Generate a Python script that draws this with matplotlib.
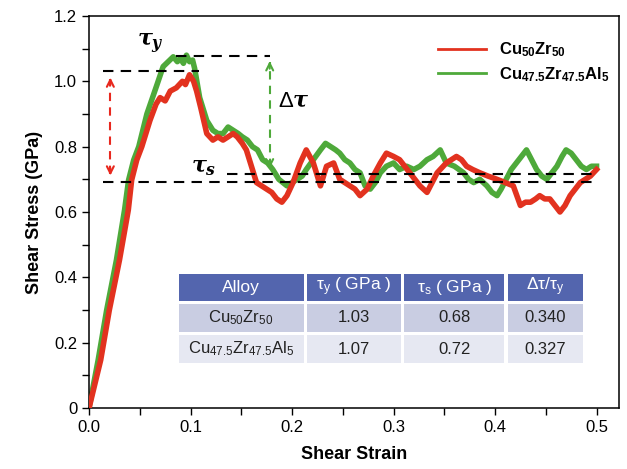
import matplotlib
matplotlib.use("Agg")
import matplotlib.pyplot as plt
from matplotlib.patches import Rectangle
from matplotlib.lines import Line2D

plt.rcParams['font.family'] = ['Liberation Sans', 'DejaVu Sans']
plt.rcParams['mathtext.fontset'] = 'custom'
plt.rcParams['mathtext.rm'] = 'Liberation Sans'
plt.rcParams['mathtext.bf'] = 'Liberation Sans:bold'
plt.rcParams['mathtext.it'] = 'DejaVu Serif:italic:bold'

# ---------------- data ----------------
green_strain = [0.0, 0.009, 0.0174, 0.027, 0.035, 0.039, 0.044, 0.049, 0.057, 0.067,
                0.073, 0.078, 0.083, 0.087, 0.090, 0.093, 0.096, 0.099, 0.102, 0.104,
                0.109, 0.116, 0.122, 0.127, 0.132, 0.137, 0.142, 0.147, 0.151, 0.156,
                0.161, 0.166, 0.171, 0.176, 0.181, 0.187, 0.195, 0.200, 0.205, 0.210,
                0.214, 0.221, 0.228, 0.233, 0.238, 0.243, 0.247, 0.252, 0.257, 0.262,
                0.267, 0.272, 0.277, 0.282, 0.287, 0.293, 0.300, 0.306, 0.313, 0.320,
                0.326, 0.333, 0.339, 0.346, 0.352, 0.360, 0.369, 0.374, 0.379, 0.385,
                0.392, 0.397, 0.402, 0.406, 0.411, 0.416, 0.421, 0.426, 0.431, 0.436,
                0.441, 0.446, 0.451, 0.456, 0.461, 0.466, 0.470, 0.475, 0.480, 0.485,
                0.490, 0.495, 0.500]
green_stress = [0.0, 0.147, 0.30, 0.453, 0.606, 0.698, 0.759, 0.80, 0.90, 0.99,
                1.045, 1.06, 1.075, 1.06, 1.07, 1.055, 1.08, 1.06, 1.065, 1.04,
                0.95, 0.88, 0.85, 0.84, 0.84, 0.86, 0.85, 0.84, 0.83, 0.82,
                0.80, 0.79, 0.76, 0.75, 0.73, 0.70, 0.68, 0.69, 0.70, 0.71,
                0.73, 0.76, 0.79, 0.81, 0.80, 0.79, 0.78, 0.76, 0.75, 0.73,
                0.72, 0.68, 0.67, 0.69, 0.72, 0.74, 0.75, 0.73, 0.74, 0.73,
                0.74, 0.76, 0.77, 0.79, 0.75, 0.74, 0.72, 0.70, 0.69, 0.70,
                0.68, 0.66, 0.65, 0.67, 0.70, 0.73, 0.75, 0.77, 0.79, 0.76,
                0.73, 0.71, 0.70, 0.72, 0.74, 0.77, 0.79, 0.78, 0.76, 0.74,
                0.73, 0.74, 0.74]

red_strain = [0.0, 0.0115, 0.020, 0.030, 0.0387, 0.042, 0.047, 0.052, 0.060, 0.066,
              0.070, 0.075, 0.080, 0.086, 0.092, 0.095, 0.099, 0.103, 0.106, 0.110,
              0.116, 0.122, 0.127, 0.132, 0.137, 0.142, 0.146, 0.151, 0.155, 0.159,
              0.165, 0.170, 0.175, 0.180, 0.185, 0.190, 0.195, 0.201, 0.208, 0.214,
              0.221, 0.228, 0.234, 0.241, 0.247, 0.252, 0.257, 0.262, 0.267, 0.274,
              0.280, 0.287, 0.293, 0.300, 0.306, 0.311, 0.316, 0.321, 0.326, 0.333,
              0.338, 0.343, 0.352, 0.357, 0.362, 0.367, 0.372, 0.378, 0.385, 0.393,
              0.402, 0.410, 0.418, 0.425, 0.430, 0.435, 0.440, 0.444, 0.449, 0.454,
              0.459, 0.464, 0.469, 0.474, 0.479, 0.484, 0.489, 0.494, 0.500]
red_stress = [0.0, 0.147, 0.30, 0.453, 0.606, 0.698, 0.759, 0.80, 0.88, 0.93,
              0.95, 0.94, 0.97, 0.98, 1.00, 0.99, 1.02, 1.00, 0.97, 0.92,
              0.84, 0.82, 0.83, 0.82, 0.83, 0.84, 0.83, 0.81, 0.79, 0.75,
              0.69, 0.68, 0.67, 0.66, 0.64, 0.63, 0.65, 0.69, 0.75, 0.79,
              0.75, 0.68, 0.74, 0.75, 0.70, 0.69, 0.68, 0.67, 0.65, 0.67,
              0.71, 0.75, 0.78, 0.77, 0.76, 0.74, 0.72, 0.70, 0.68, 0.66,
              0.69, 0.72, 0.75, 0.76, 0.77, 0.76, 0.74, 0.73, 0.72, 0.71,
              0.70, 0.69, 0.68, 0.62, 0.63, 0.63, 0.64, 0.65, 0.64, 0.64,
              0.62, 0.60, 0.62, 0.65, 0.67, 0.69, 0.70, 0.71, 0.73]

series_labels = [r'$\mathbf{Cu_{50}Zr_{50}}$', r'$\mathbf{Cu_{47.5}Zr_{47.5}Al_5}$']

tau_y_red, tau_y_green = 1.03, 1.077
tau_s_red, tau_s_green = 0.693, 0.715

table_header = ['Alloy', 'τ$_\\mathrm{y}$ ( GPa )', 'τ$_\\mathrm{s}$ ( GPa )', 'Δτ/τ$_\\mathrm{y}$']
table_rows = [[r'Cu$_\mathrm{50}$Zr$_\mathrm{50}$', '1.03', '0.68', '0.340'],
              [r'Cu$_\mathrm{47.5}$Zr$_\mathrm{47.5}$Al$_\mathrm{5}$', '1.07', '0.72', '0.327']]

x_ticks = [0.0, 0.1, 0.2, 0.3, 0.4, 0.5]
x_ticklabels = ['0.0', '0.1', '0.2', '0.3', '0.4', '0.5']
y_ticks = [0, 0.2, 0.4, 0.6, 0.8, 1.0, 1.2]
y_ticklabels = ['0', '0.2', '0.4', '0.6', '0.8', '1.0', '1.2']

# ---------------- figure ----------------
fig = plt.figure(figsize=(6.27, 4.69), dpi=100)
ax = fig.add_axes([0.142, 0.130, 0.845, 0.836])

RED = '#e2321f'
GREEN = '#4ea93a'
ax.plot(green_strain, green_stress, color=GREEN, lw=4.0, solid_joinstyle='round', zorder=2)
ax.plot(red_strain, red_stress, color=RED, lw=4.0, solid_joinstyle='round', zorder=3)

# dashed reference lines
dash = dict(color='black', lw=1.5, dashes=(5, 3.5), zorder=4)
ax.plot([0.014, 0.108], [tau_y_red, tau_y_red], **dash)
ax.plot([0.086, 0.178], [tau_y_green, tau_y_green], **dash)
ax.plot([0.014, 0.50], [tau_s_red, tau_s_red], **dash)
ax.plot([0.136, 0.50], [tau_s_green, tau_s_green], **dash)

# arrows
def dashed_double_arrow(x, y0, y1, color):
    ax.plot([x, x], [y0 + 0.012, y1 - 0.012], color=color, lw=1.5, dashes=(4, 3), zorder=5)
    ax.annotate('', xy=(x, y1), xytext=(x, y1 - 0.04),
                arrowprops=dict(arrowstyle='->,head_length=0.5,head_width=0.25', color=color, lw=1.5), zorder=5)
    ax.annotate('', xy=(x, y0), xytext=(x, y0 + 0.04),
                arrowprops=dict(arrowstyle='->,head_length=0.5,head_width=0.25', color=color, lw=1.5), zorder=5)

dashed_double_arrow(0.021, 0.703, 1.02, '#e8281e')
dashed_double_arrow(0.178, 0.725, 1.07, '#4ea93a')

ax.text(0.06, 1.115, r'$\mathit{\tau_y}$', fontsize=16, ha='center', va='center')
ax.text(0.202, 0.938, r'$\mathit{\Delta\tau}$', fontsize=16, ha='center', va='center')
ax.text(0.113, 0.735, r'$\mathit{\tau_s}$', fontsize=16, ha='center', va='center')

ax.set_xlim(0, 0.522)
ax.set_ylim(0, 1.2)
ax.set_xticks(x_ticks)
ax.set_xticklabels(x_ticklabels)
ax.set_yticks(y_ticks)
ax.set_yticklabels(y_ticklabels)
ax.set_xticks([0.05, 0.15, 0.25, 0.35, 0.45], minor=True)
ax.set_yticks([0.1, 0.3, 0.5, 0.7, 0.9, 1.1], minor=True)
ax.tick_params(which='both', direction='out', length=5, width=1, labelsize=12)
for s in ax.spines.values():
    s.set_linewidth(1.1)

ax.set_xlabel('Shear Strain', fontsize=13, fontweight='bold', labelpad=8)
ax.set_ylabel('Shear Stress (GPa)', fontsize=13, fontweight='bold', labelpad=8)

handles = [Line2D([], [], color=RED, lw=2), Line2D([], [], color=GREEN, lw=2)]
ax.legend(handles, series_labels, loc='upper left', bbox_to_anchor=(0.63, 0.975),
          frameon=False, handlelength=2.9, fontsize=12, labelspacing=0.35)

# table
col_edges = [0.166, 0.408, 0.592, 0.787, 0.936]
row_edges = [0.347, 0.270, 0.191, 0.110]
row_colors = ['#5365ae', '#c9cde2', '#e6e8f2']
gap = 0.003
all_rows = [table_header] + table_rows
for r, row in enumerate(all_rows):
    y_top, y_bot = row_edges[r], row_edges[r + 1]
    for c, txt in enumerate(row):
        x0, x1 = col_edges[c], col_edges[c + 1]
        ax.add_patch(Rectangle((x0 + gap, y_bot + gap * 1.3), x1 - x0 - 2 * gap, y_top - y_bot - 2 * gap * 1.3,
                               transform=ax.transAxes, facecolor=row_colors[r], edgecolor='none', zorder=6))
        ax.text((x0 + x1) / 2, (y_top + y_bot) / 2, txt, transform=ax.transAxes,
                ha='center', va='center', fontsize=12 if r else 12.5,
                color='white' if r == 0 else '#222222', zorder=7)

fig.savefig('out.png', dpi=100)
